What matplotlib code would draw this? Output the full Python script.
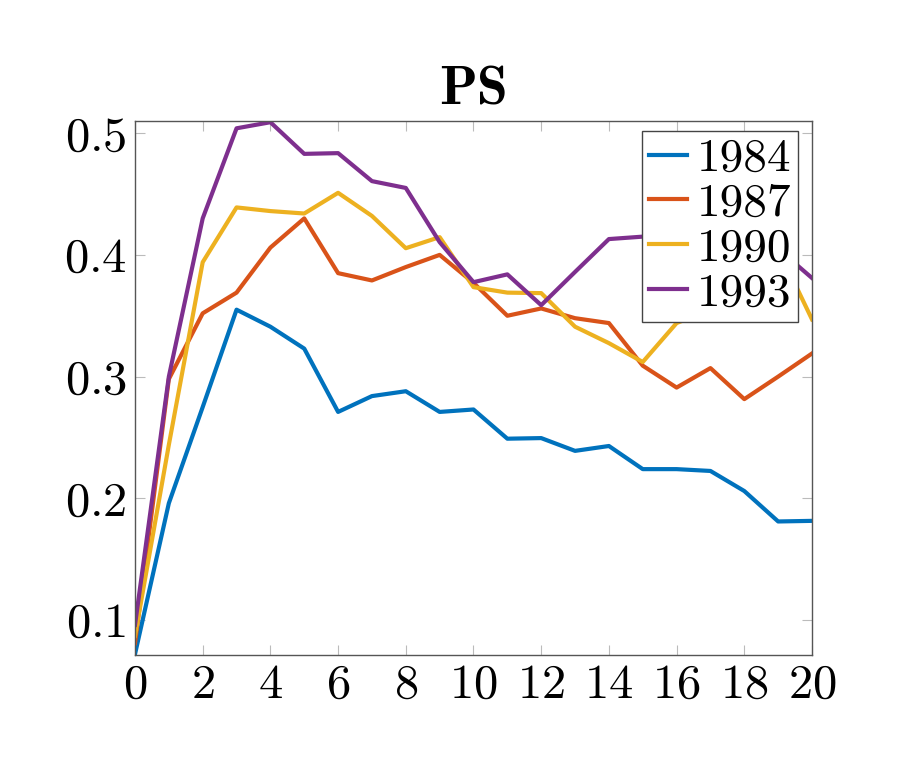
import matplotlib
matplotlib.use("Agg")
import matplotlib.pyplot as plt

plt.rcParams['font.family'] = ['cmr10', 'DejaVu Serif']
plt.rcParams['axes.formatter.use_mathtext'] = True

x = list(range(21))
y1984 = [0.072, 0.196, 0.275, 0.355, 0.341, 0.323, 0.271, 0.284, 0.288, 0.271, 0.273,
         0.249, 0.2495, 0.239, 0.243, 0.224, 0.224, 0.2225, 0.206, 0.181, 0.1815]
y1987 = [0.081, 0.298, 0.352, 0.369, 0.406, 0.430, 0.385, 0.379, 0.390, 0.400, 0.377,
         0.350, 0.356, 0.348, 0.344, 0.309, 0.291, 0.307, 0.2815, 0.300, 0.319]
y1990 = [0.087, 0.244, 0.394, 0.439, 0.436, 0.434, 0.451, 0.432, 0.4055, 0.4146, 0.3735,
         0.369, 0.3686, 0.341, 0.3275, 0.312, 0.344, 0.355, 0.380, 0.405, 0.347]
y1993 = [0.096, 0.300, 0.430, 0.504, 0.509, 0.483, 0.4836, 0.4606, 0.455, 0.4105, 0.3776,
         0.384, 0.3587, 0.386, 0.413, 0.415, 0.420, 0.430, 0.420, 0.405, 0.381]
labels = ['1984', '1987', '1990', '1993']
colors = ['#0072BD', '#D95319', '#EDB120', '#7E2F8E']

fig = plt.figure(figsize=(9.03, 7.63), dpi=100)
ax = fig.add_axes([135 / 903, 1 - 655 / 763, 677 / 903, 534 / 763])

for ys, lab, c in zip([y1984, y1987, y1990, y1993], labels, colors):
    ax.plot(x, ys, color=c, lw=3, label=lab)

ax.set_xlim(0, 20)
ax.set_ylim(0.0713, 0.51)
ax.set_xticks(range(0, 21, 2))
ax.set_yticks([0.1, 0.2, 0.3, 0.4, 0.5])
ax.tick_params(direction='in', length=7, width=0.8, color='#bbbbbb',
               labelsize=35, top=True, right=True, pad=6, labelcolor='black')
for s in ax.spines.values():
    s.set_color('#555555')
    s.set_linewidth(1.0)

ax.set_title('PS', fontsize=40, fontfamily='cmb10', pad=12)

leg = ax.legend(loc='upper right', bbox_to_anchor=(0.9793, 0.9813), borderaxespad=0,
                fontsize=34, handlelength=0.8, handletextpad=0.2, labelspacing=0.06,
                borderpad=0.15, fancybox=False, framealpha=1, edgecolor='#444444')
leg.get_frame().set_linewidth(1.0)

fig.savefig('out.png', dpi=100)
